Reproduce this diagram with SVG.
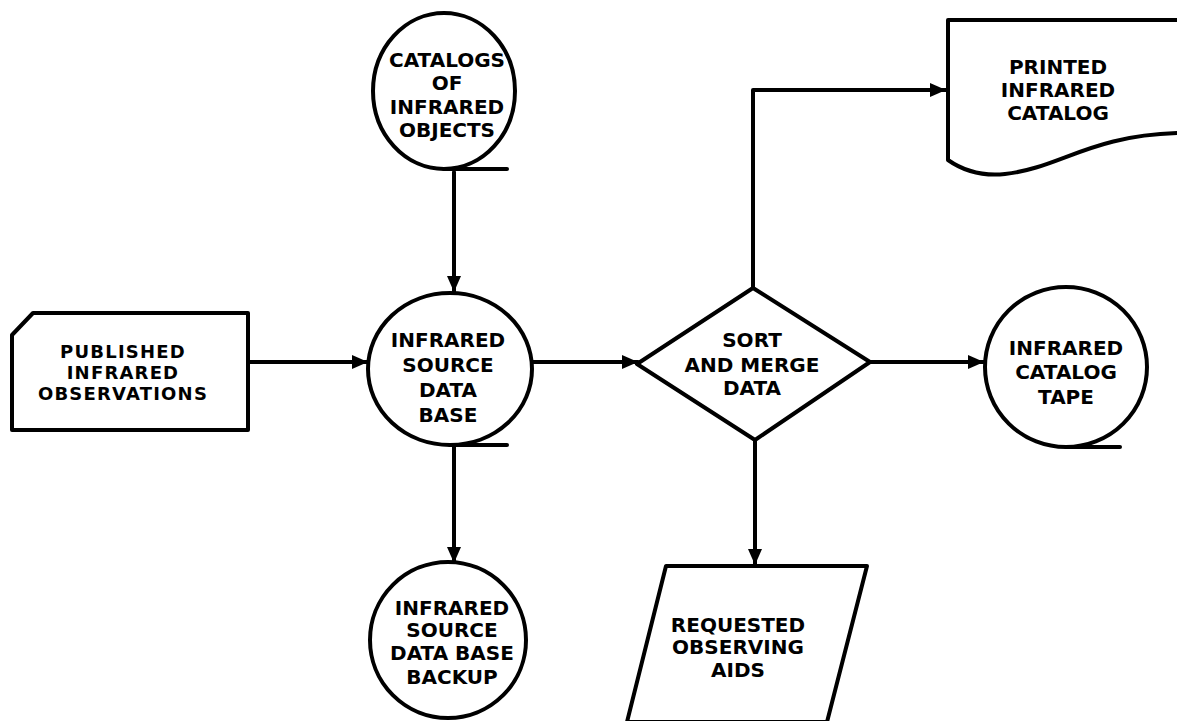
<svg xmlns="http://www.w3.org/2000/svg" width="1177" height="721" viewBox="0 0 1177 721">
<defs>
<style>
.s{fill:none;stroke:#000;stroke-width:4;stroke-linejoin:round;stroke-linecap:round}
.n{fill:#fff;stroke:#000;stroke-width:4;stroke-linejoin:round}
.t{font-family:"DejaVu Sans",sans-serif;font-weight:bold;font-size:20px;fill:#000;text-anchor:middle}
.p{font-size:18px;letter-spacing:1.2px}
</style>
<marker id="ah" markerUnits="userSpaceOnUse" markerWidth="18" markerHeight="18" viewBox="0 0 18 18" refX="17" refY="9" orient="auto">
<path d="M1,2 L17,9 L1,16 Z" fill="#000"/>
</marker>
</defs>
<rect width="1177" height="721" fill="#fff"/>
<g id="connectors">
<path class="s" d="M454,172 V292" marker-end="url(#ah)"/>
<path class="s" d="M250,362 H368" marker-end="url(#ah)"/>
<path class="s" d="M532,362 H638" marker-end="url(#ah)"/>
<path class="s" d="M454,447 V563" marker-end="url(#ah)"/>
<path class="s" d="M753,288 V90 H946" marker-end="url(#ah)"/>
<path class="s" d="M870,362 H984" marker-end="url(#ah)"/>
<path class="s" d="M755,440 V565" marker-end="url(#ah)"/>
</g>
<g id="catalogs">
<ellipse class="n" cx="444" cy="91" rx="71" ry="78"/>
<path class="s" d="M444,169 H507"/>
<text class="t" x="447" y="67">CATALOGS</text>
<text class="t" x="447" y="90">OF</text>
<text class="t" x="447" y="114">INFRARED</text>
<text class="t" x="447" y="137">OBJECTS</text>
</g>
<g id="published">
<path class="n" d="M33,313 H248 V430 H12 V335 Z"/>
<text class="t p" x="123" y="358">PUBLISHED</text>
<text class="t p" x="123" y="379">INFRARED</text>
<text class="t p" x="123" y="400">OBSERVATIONS</text>
</g>
<g id="database">
<ellipse class="n" cx="450" cy="369" rx="82" ry="76"/>
<path class="s" d="M450,445 H507"/>
<text class="t" x="448" y="347">INFRARED</text>
<text class="t" x="448" y="372">SOURCE</text>
<text class="t" x="448" y="397">DATA</text>
<text class="t" x="448" y="422">BASE</text>
</g>
<g id="sort">
<path class="n" d="M753,288 L870,362 L755,440 L637,364 Z"/>
<text class="t" x="752" y="347">SORT</text>
<text class="t" x="752" y="372">AND MERGE</text>
<text class="t" x="752" y="395">DATA</text>
</g>
<g id="printed">
<path class="n" d="M1180,20 H948 V160 C965,172 985,176 1005,174 C1060,168 1090,135 1180,133"/>
<text class="t" x="1058" y="74">PRINTED</text>
<text class="t" x="1058" y="97">INFRARED</text>
<text class="t" x="1058" y="120">CATALOG</text>
</g>
<g id="tape">
<ellipse class="n" cx="1066" cy="367" rx="81" ry="80"/>
<path class="s" d="M1066,447 H1120"/>
<text class="t" x="1066" y="355">INFRARED</text>
<text class="t" x="1066" y="379">CATALOG</text>
<text class="t" x="1066" y="404">TAPE</text>
</g>
<g id="backup">
<ellipse class="n" cx="448" cy="640" rx="78" ry="78"/>
<text class="t" x="452" y="615">INFRARED</text>
<text class="t" x="452" y="637">SOURCE</text>
<text class="t" x="452" y="660">DATA BASE</text>
<text class="t" x="452" y="684">BACKUP</text>
</g>
<g id="requested">
<path class="n" d="M666,566 H867 L827,722 H627 Z"/>
<text class="t" x="738" y="632">REQUESTED</text>
<text class="t" x="738" y="654">OBSERVING</text>
<text class="t" x="738" y="677">AIDS</text>
</g>
</svg>
